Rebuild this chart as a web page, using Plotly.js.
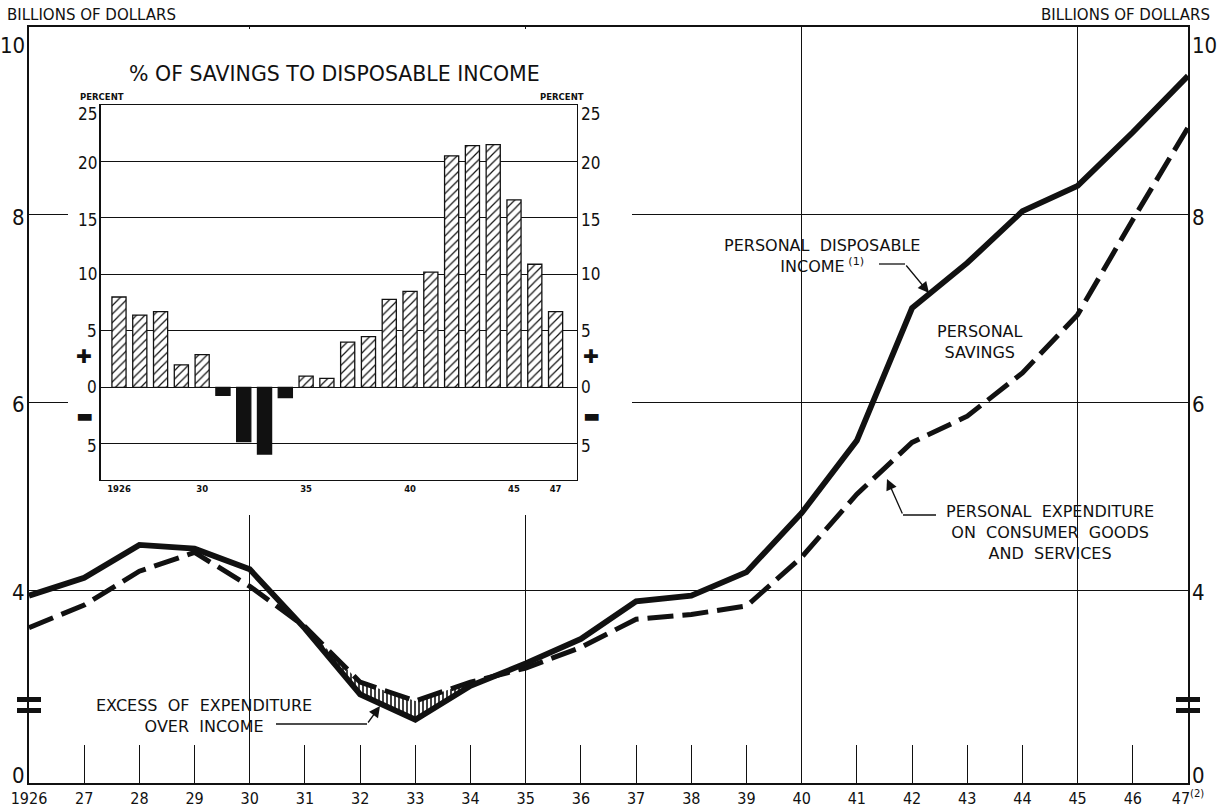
<!DOCTYPE html>
<html>
<head>
<meta charset="utf-8">
<script src="https://cdn.plot.ly/plotly-3.0.1.min.js"></script>
<style>html,body{margin:0;padding:0;background:#fff;}#chart{width:1223px;height:810px;}</style>
</head>
<body>
<div id="chart"></div>
<script>
// ---- data ----
const years = [1926,1927,1928,1929,1930,1931,1932,1933,1934,1935,1936,1937,1938,1939,1940,1941,1942,1943,1944,1945,1946,1947];
const yearLabels = ['1926','27','28','29','30','31','32','33','34','35','36','37','38','39','40','41','42','43','44','45','46','47<sup>(2)</sup>'];
// billions of dollars
const disposableIncome = [3.95,4.14,4.49,4.45,4.23,3.60,2.90,2.63,2.99,3.23,3.49,3.89,3.95,4.20,4.83,5.60,7.01,7.49,8.04,8.31,8.88,9.48];
const consumerExpenditure = [3.61,3.85,4.21,4.41,4.05,3.62,3.03,2.83,3.03,3.18,3.40,3.70,3.75,3.84,4.36,5.03,5.58,5.86,6.32,6.94,7.95,8.93];
// excess of expenditure over income: years 1931-1934
const excessYears = years.slice(5, 9);
const excessIncome = disposableIncome.slice(5, 9);
const excessExpenditure = consumerExpenditure.slice(5, 9);
// % of savings to disposable income
const savingsRate = [8.0,6.4,6.7,2.0,2.9,-0.7,-4.8,-5.9,-0.9,1.0,0.8,4.0,4.5,7.8,8.5,10.2,20.5,21.4,21.5,16.6,10.9,6.7];
const savingsPositive = savingsRate.map(v => v >= 0 ? v : null);
const savingsNegative = savingsRate.map(v => v < 0 ? v : null);
const mainTickVals = [1.957,4,6,8,10];
const mainTickText = ['0','4','6','8','10'];
const gridYears = [1930,1935,1940,1945];
const insetTickVals = [-5,0,5,10,15,20,25];
const insetTickText = ['5','0','5','10','15','20','25'];
const insetYearVals = [1926,1930,1935,1940,1945,1947];
const insetYearText = ['1926','30','35','40','45','47'];

// ---- layout helpers (pixel -> paper) ----
const PL = 29, PR = 1188, PT = 27, PB = 783;
const px = x => (x - PL) / (PR - PL);
const py = y => (PB - y) / (PB - PT);
const FONT = 'DejaVu Sans';
const NUMFONT = 'DejaVu Sans Condensed, DejaVu Sans';
const K = '#111';
// label vertical nudges (pixels) so labels hang as in the original lettering
const mainLabelShift = [8, -2, -2, -3, -18];
const insetLabelShift = [-2, 0, 0, 0, -2, -2, -9];

const traces = [
  // white cover for inset (subplot x2y2, only its background is used)
  {x:[0.5], y:[0.5], xaxis:'x2', yaxis:'y2', mode:'markers', marker:{opacity:0}, hoverinfo:'skip', showlegend:false},
  // excess hatch
  {x: excessYears, y: excessIncome, mode:'lines', line:{width:0, color:K}, hoverinfo:'skip', showlegend:false},
  {x: excessYears, y: excessExpenditure, mode:'lines', line:{width:0, color:K}, fill:'tonexty', fillcolor:'white',
   fillpattern:{shape:'|', fgcolor:K, bgcolor:'white', size:4, solidity:0.4}, hoverinfo:'skip', showlegend:false},
  {x: years, y: consumerExpenditure, mode:'lines', name:'Personal expenditure',
   line:{color:K, width:5, dash:'26px,9px'}},
  {x: years, y: disposableIncome, mode:'lines', name:'Personal disposable income',
   line:{color:K, width:5.8}},
  // overlay x axis carrier (vertical grid lines)
  {x: years, y: disposableIncome, xaxis:'x4', yaxis:'y', mode:'markers', marker:{opacity:0}, hoverinfo:'skip', showlegend:false},
  // inset bars
  {x: years, y: savingsPositive, type:'bar', xaxis:'x3', yaxis:'y3', width:0.68,
   marker:{color:'white', line:{color:K, width:1.3},
           pattern:{shape:'/', fgcolor:K, bgcolor:'white', size:6, solidity:0.2}},
   showlegend:false},
  {x: years, y: savingsNegative, type:'bar', xaxis:'x3', yaxis:'y3', width:0.68,
   marker:{color:K, line:{color:K, width:1.3}}, showlegend:false}
];

const insetX = [px(100.7), px(577)];
const insetY = [py(480), py(105)];

const annFont = {family: FONT, size: 16, color: K};
const arrowStyle = {showarrow:true, arrowhead:2, arrowsize:1.7, arrowwidth:1.3, arrowcolor:K, text:'', standoff:0};
const annotations = [
  {xref:'paper', yref:'paper', x:px(5), y:py(15), xanchor:'left', yanchor:'middle', showarrow:false,
   text:'BILLIONS OF DOLLARS', font:{family:FONT, size:15, color:K}},
  {xref:'paper', yref:'paper', x:px(1212), y:py(15), xanchor:'right', yanchor:'middle', showarrow:false,
   text:'BILLIONS OF DOLLARS', font:{family:FONT, size:15, color:K}},
  {xref:'paper', yref:'paper', x:px(334), y:py(74), xanchor:'center', yanchor:'middle', showarrow:false,
   text:'% OF SAVINGS TO DISPOSABLE INCOME', font:{family:FONT, size:20.5, color:K}},
  {xref:'paper', yref:'paper', x:px(102), y:py(97), xanchor:'center', yanchor:'middle', showarrow:false,
   text:'PERCENT', font:{family:FONT, size:8.5, color:K, weight:'bold'}},
  {xref:'paper', yref:'paper', x:px(562), y:py(97), xanchor:'center', yanchor:'middle', showarrow:false,
   text:'PERCENT', font:{family:FONT, size:8.5, color:K, weight:'bold'}},
  // + / - signs
  {xref:'paper', yref:'y3', x:px(84), y:2.8, xanchor:'center', showarrow:false, text:'✚', font:{family:FONT, size:19, color:K}},
  {xref:'paper', yref:'y3', x:px(591), y:2.8, xanchor:'center', showarrow:false, text:'✚', font:{family:FONT, size:19, color:K}},
  {xref:'paper', yref:'y3', x:px(84), y:-2.5, xanchor:'center', showarrow:false, text:'▬', font:{family:FONT, size:18, color:K}},
  {xref:'paper', yref:'y3', x:px(591), y:-2.5, xanchor:'center', showarrow:false, text:'▬', font:{family:FONT, size:18, color:K}},
  // line labels
  {xref:'paper', yref:'paper', x:px(822), y:py(256), xanchor:'center', yanchor:'middle', showarrow:false, align:'center',
   text:'PERSONAL  DISPOSABLE<br>INCOME<sup> (1)</sup>', font:annFont},
  Object.assign({xref:'paper', yref:'paper', x:px(929), y:py(293), ax:-24, ay:-29}, arrowStyle),
  {xref:'paper', yref:'paper', x:px(980), y:py(342), xanchor:'center', yanchor:'middle', showarrow:false, align:'center',
   text:'PERSONAL<br>SAVINGS', font:annFont},
  {xref:'paper', yref:'paper', x:px(1050), y:py(532), xanchor:'center', yanchor:'middle', showarrow:false, align:'center',
   text:'PERSONAL  EXPENDITURE<br>ON  CONSUMER  GOODS<br>AND  SERVICES', font:annFont},
  Object.assign({xref:'paper', yref:'paper', x:px(887), y:py(479), ax:16, ay:36}, arrowStyle),
  {xref:'paper', yref:'paper', x:px(204), y:py(716), xanchor:'center', yanchor:'middle', showarrow:false, align:'center',
   text:'EXCESS  OF  EXPENDITURE<br>OVER  INCOME', font:annFont},
  Object.assign({xref:'paper', yref:'paper', x:px(380), y:py(706), ax:-13, ay:18}, arrowStyle)
];
// main y labels on both sides
mainTickVals.forEach((v, i) => {
  annotations.push({xref:'paper', yref:'y', x:0, y:v, xanchor:'right', yanchor:'middle', xshift:-2, yshift:mainLabelShift[i],
    showarrow:false, text:mainTickText[i], font:{family:NUMFONT, size:22, color:K}});
  annotations.push({xref:'paper', yref:'y', x:1, y:v, xanchor:'left', yanchor:'middle', xshift:2, yshift:mainLabelShift[i],
    showarrow:false, text:mainTickText[i], font:{family:NUMFONT, size:22, color:K}});
});
// inset y labels on both sides
insetTickVals.forEach((v, i) => {
  annotations.push({xref:'x3 domain', yref:'y3', x:0, y:v, xanchor:'right', yanchor:'middle', xshift:-2, yshift:insetLabelShift[i],
    showarrow:false, text:insetTickText[i], font:{family:NUMFONT, size:17, color:K}});
  annotations.push({xref:'x3 domain', yref:'y3', x:1, y:v, xanchor:'left', yanchor:'middle', xshift:2, yshift:insetLabelShift[i],
    showarrow:false, text:insetTickText[i], font:{family:NUMFONT, size:17, color:K}});
});

const shapes = [
  // leader lines
  {type:'line', xref:'paper', yref:'paper', x0:px(879), x1:px(905), y0:py(264), y1:py(264), line:{color:K, width:1.3}},
  {type:'line', xref:'paper', yref:'paper', x0:px(903), x1:px(936), y0:py(515), y1:py(515), line:{color:K, width:1.3}},
  {type:'line', xref:'paper', yref:'paper', x0:px(276), x1:px(367), y0:py(724), y1:py(724), line:{color:K, width:1.3}},
  // axis break marks
  {type:'rect', xref:'paper', yref:'paper', x0:px(17), x1:px(41), y0:py(702), y1:py(697), fillcolor:K, line:{width:0}},
  {type:'rect', xref:'paper', yref:'paper', x0:px(17), x1:px(41), y0:py(713), y1:py(708), fillcolor:K, line:{width:0}},
  {type:'rect', xref:'paper', yref:'paper', x0:px(1176), x1:px(1200), y0:py(702), y1:py(697), fillcolor:K, line:{width:0}},
  {type:'rect', xref:'paper', yref:'paper', x0:px(1176), x1:px(1200), y0:py(713), y1:py(708), fillcolor:K, line:{width:0}}
];

const layout = {
  width:1223, height:810,
  margin:{l:PL, r:1223-PR, t:PT, b:810-PB, pad:0},
  paper_bgcolor:'white', plot_bgcolor:'white',
  showlegend:false, barmode:'overlay',
  xaxis:{domain:[0,1], anchor:'y', range:[1926,1947], tickmode:'array', tickvals:years, ticktext:yearLabels,
         ticks:'inside', ticklen:38, tickwidth:1, tickcolor:K, showgrid:false, zeroline:false,
         showline:true, mirror:true, linecolor:K, linewidth:1.6,
         tickfont:{family:NUMFONT, size:16, color:K}},
  yaxis:{domain:[0,1], anchor:'x', range:[1.957,10], tickmode:'array', tickvals:mainTickVals,
         showticklabels:false, ticks:'', showgrid:true, gridcolor:K, gridwidth:1, zeroline:false,
         showline:true, mirror:true, linecolor:K, linewidth:1.6},
  xaxis4:{overlaying:'x', anchor:'y', range:[1926,1947], tickmode:'array', tickvals:gridYears,
          showticklabels:false, ticks:'', showgrid:true, gridcolor:K, gridwidth:1, zeroline:false, showline:false},
  xaxis2:{domain:[px(68), px(632)], anchor:'y2', range:[0,1], visible:false},
  yaxis2:{domain:[py(515), py(29)], anchor:'x2', range:[0,1], visible:false},
  xaxis3:{domain:insetX, anchor:'y3', range:[1925.12,1948.03], tickmode:'array', tickvals:insetYearVals, ticktext:insetYearText,
          ticks:'', showgrid:false, zeroline:false, showline:true, mirror:true, linecolor:K, linewidth:1.3,
          tickfont:{family:FONT, size:8.5, color:K, weight:'bold'}},
  yaxis3:{domain:insetY, anchor:'x3', range:[-8.2,25], tickmode:'array', tickvals:insetTickVals,
          showticklabels:false, ticks:'', showgrid:true, gridcolor:K, gridwidth:1, zeroline:true, zerolinecolor:K, zerolinewidth:1.4,
          showline:true, mirror:true, linecolor:K, linewidth:1.3},
  annotations: annotations,
  shapes: shapes
};

Plotly.newPlot('chart', traces, layout, {displayModeBar:false, staticPlot:true});
</script>
</body>
</html>
